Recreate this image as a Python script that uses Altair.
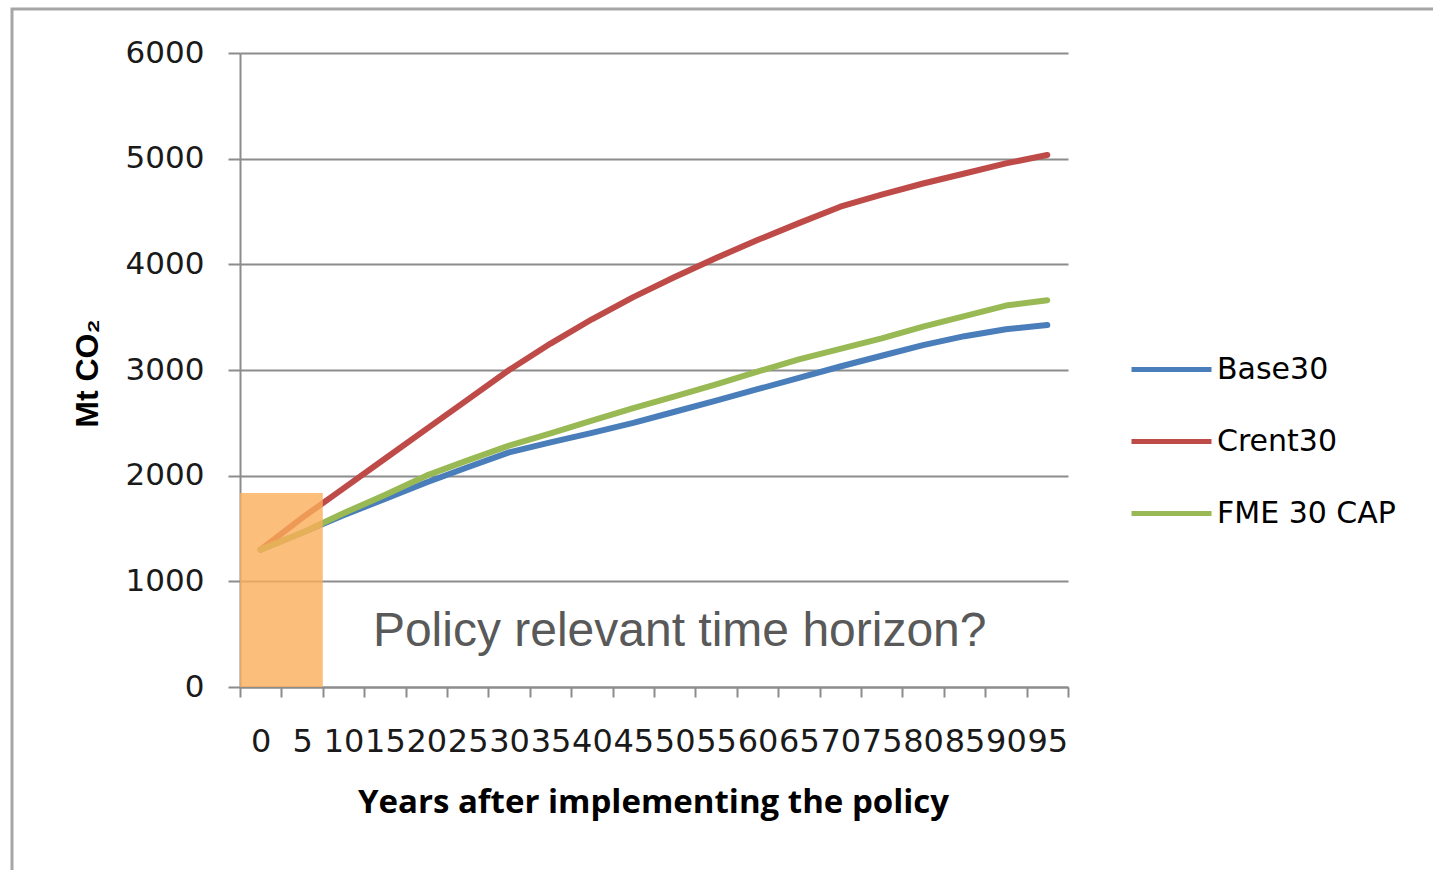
import altair as alt
import pandas as pd

# Period labels (years after the policy starts)
years = ["0", "5", "10", "15", "20", "25", "30", "35", "40", "45",
         "50", "55", "60", "65", "70", "75", "80", "85", "90", "95"]

# Cumulative emissions, Mt CO2
base30 = [1300, 1460, 1625, 1780, 1935, 2080, 2220, 2315, 2405, 2500,
          2605, 2710, 2818, 2925, 3033, 3135, 3235, 3320, 3385, 3425]
crent30 = [1300, 1600, 1880, 2160, 2440, 2720, 3000, 3250, 3480, 3690,
           3880, 4060, 4230, 4390, 4545, 4660, 4765, 4860, 4955, 5035]
fme30cap = [1300, 1460, 1645, 1817, 2000, 2145, 2285, 2400, 2520, 2640,
            2750, 2865, 2985, 3100, 3200, 3300, 3410, 3510, 3610, 3660]

series_names = ["Base30", "Crent30", "FME 30 CAP"]
series_colors = ["#4A7EBB", "#BE4B48", "#98B954"]

# Shaded window for the policy-relevant horizon
window_start = ["0"]
window_end = ["5"]
window_top = [1836]

note_text = ["Policy relevant time horizon?"]
note_year = ["50"]
note_value = [520]

rows = []
for name, vals in zip(series_names, [base30, crent30, fme30cap]):
    for yr, v in zip(years, vals):
        rows.append({"year": yr, "value": v, "series": name})
df = pd.DataFrame(rows)

grey = "#8c8c8c"

x_enc = alt.X(
    "year:N",
    sort=years,
    scale=alt.Scale(domain=years, paddingInner=0, paddingOuter=0),
    axis=alt.Axis(
        title="Years after implementing the policy",
        labelAngle=0,
        labelFont="DejaVu Sans",
        labelFontSize=32,
        labelColor="#1a1a1a",
        labelPadding=29,
        labelOverlap=False,
        tickSize=10,
        tickBand="extent",
        tickColor=grey,
        tickWidth=2,
        domainColor=grey,
        domainWidth=2,
        grid=False,
        titleFont="Open Sans",
        titleFontWeight="bold",
        titleFontSize=33,
        titleColor="#000000",
        titleX=413,
        titleY=115,
        titleAlign="center",
        titleBaseline="middle",
    ),
)

y_scale = alt.Scale(domain=[0, 6000], nice=False, zero=True)
y_axis = alt.Axis(
    title="Mt CO₂",
    values=[0, 1000, 2000, 3000, 4000, 5000, 6000],
    format="d",
    labelFont="DejaVu Sans",
    labelFontSize=31,
    labelColor="#1a1a1a",
    labelPadding=24,
    tickSize=12,
    tickColor=grey,
    tickWidth=2,
    domainColor=grey,
    domainWidth=2,
    gridColor=grey,
    gridWidth=2,
    titleFont="Liberation Sans",
    titleFontWeight="bold",
    titleFontSize=32,
    titleColor="#000000",
    titleAngle=270,
    titleX=-153,
    titleY=320,
    titleAlign="center",
    titleBaseline="middle",
)

lines = alt.Chart(df).mark_line(strokeWidth=6, interpolate="linear",
                                strokeJoin="round", strokeCap="round").encode(
    x=x_enc,
    y=alt.Y("value:Q", scale=y_scale, axis=y_axis),
    color=alt.Color(
        "series:N",
        scale=alt.Scale(domain=series_names, range=series_colors),
        legend=alt.Legend(
            title=None,
            orient="none",
            legendX=889,
            legendY=274,
            symbolType="stroke",
            symbolSize=6400,
            symbolStrokeWidth=5,
            labelFont="DejaVu Sans",
            labelFontSize=30,
            labelColor="#000000",
            labelOffset=3,
            labelLimit=0,
            rowPadding=14,
        ),
    ),
)

window_df = pd.DataFrame({"start": window_start, "end": window_end,
                          "top": window_top, "bottom": [0]})
window = alt.Chart(window_df).mark_rect(color="#FAAE5A", opacity=0.8).encode(
    x=alt.X("start:N", sort=years, bandPosition=0),
    x2=alt.X2("end:N", bandPosition=1),
    y=alt.Y("top:Q", scale=y_scale),
    y2=alt.Y2("bottom:Q"),
)

note_df = pd.DataFrame({"year": note_year, "value": note_value, "label": note_text})
note = alt.Chart(note_df).mark_text(
    font="Liberation Sans", fontSize=48, color="#595959",
    align="center", baseline="middle", dx=5,
).encode(
    x=alt.X("year:N", sort=years),
    y=alt.Y("value:Q", scale=y_scale),
    text="label:N",
)

frame = alt.Chart(pd.DataFrame({"k": [0]})).mark_rect(
    fillOpacity=0, stroke="#a6a6a6", strokeWidth=3
).encode(
    x=alt.value(-228), x2=alt.value(1210),
    y=alt.value(-44), y2=alt.value(835),
)

chart = alt.layer(lines, window, note, frame).properties(
    width=828,
    height=634,
    autosize=alt.AutoSizeParams(type="none"),
    padding={"left": 240, "top": 53, "right": 365, "bottom": 183},
    background="white",
).configure_view(stroke=None)

chart.save("out.html", embed_options={"renderer": "svg", "actions": False})
